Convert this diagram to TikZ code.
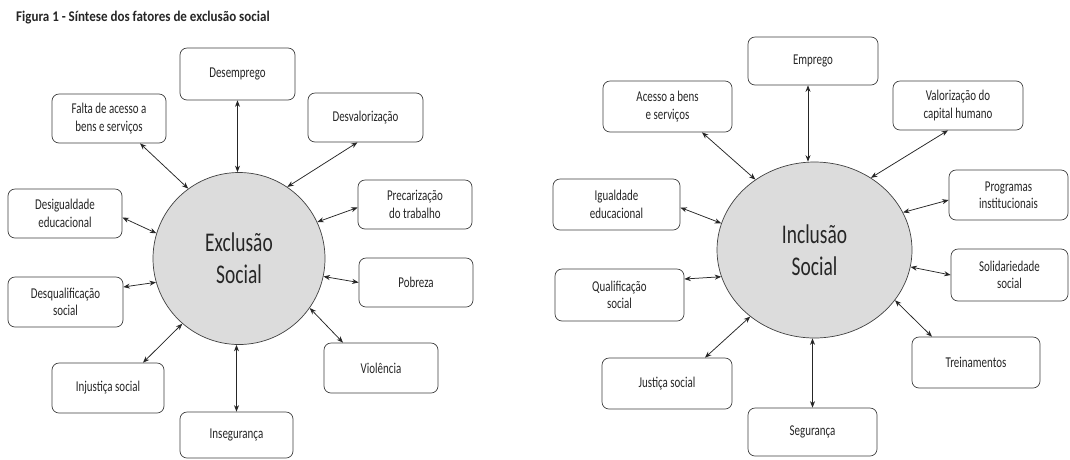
\documentclass[tikz,border=0pt]{standalone}
\usepackage{fontspec}
\usetikzlibrary{arrows.meta,shapes.geometric}
\newfontfamily\boxfont[FakeStretch=0.73]{Carlito}
\newfontfamily\circfont[FakeStretch=0.72]{Carlito}
\newfontfamily\titlefont[FakeStretch=0.88]{Carlito}
\definecolor{txt}{HTML}{262626}
\definecolor{circfill}{HTML}{DCDCDC}
\definecolor{edge}{HTML}{404040}
\tikzset{
  fbox/.style={draw=edge, line width=0.7pt, rounded corners=7pt, inner sep=0pt,
    align=center, text=txt, font=\boxfont\fontsize{15}{17.5}\selectfont},
  bigcirc/.style={draw=edge, line width=0.7pt, fill=circfill, inner sep=0pt,
    align=center, text=txt, font=\circfont\fontsize{27}{32}\selectfont},
  arr/.style={{Stealth[length=6.5pt,width=5pt]}-{Stealth[length=6.5pt,width=5pt]}, line width=0.75pt, draw=black!85}
}
\begin{document}
\begin{tikzpicture}[x=1pt,y=-1pt]
\useasboundingbox (0,0) rectangle (1070,459);
\fill[white] (0,0) rectangle (1070,459);

% title
\node[anchor=west, inner sep=0pt, text=black!85, font=\titlefont\bfseries\fontsize{14.8}{17}\selectfont] (title) at (16,18) {Figura 1 - Síntese dos fatores de exclusão social};

% ---------- left diagram ----------
\node[bigcirc, circle, minimum size=172pt] (exc) at (239,258.5) {Exclusão\\Social};

\node[fbox, minimum width=115pt, minimum height=52pt] (desemp) at (237.5,74) {Desemprego};
\node[fbox, minimum width=114pt, minimum height=49pt] (falta) at (109,118.5) {Falta de acesso a\\bens e serviços};
\node[fbox, minimum width=115pt, minimum height=49pt] (desval) at (365.5,117.5) {Desvalorização};
\node[fbox, minimum width=114pt, minimum height=49pt] (precar) at (415,204.5) {Precarização\\do trabalho};
\node[fbox, minimum width=114pt, minimum height=49pt] (desig) at (65,213.5) {Desigualdade\\educacional};
\node[fbox, minimum width=115pt, minimum height=50pt] (desqual) at (65.5,302) {Desqualificação\\social};
\node[fbox, minimum width=112pt, minimum height=50pt] (injust) at (108,388) {Injustiça social};
\node[fbox, minimum width=113pt, minimum height=46pt] (inseg) at (236.5,435) {Insegurança};
\node[fbox, minimum width=114pt, minimum height=49pt] (pobreza) at (416,282.5) {Pobreza};
\node[fbox, minimum width=114pt, minimum height=50pt] (viol) at (381,368) {Violência};

\draw[arr] (desemp.south) -- (desemp.south |- exc.north);
\draw[arr] ([xshift=31pt]falta.south) -- (exc.126);
\draw[arr] ([xshift=-8pt]desval.south) -- (exc.56);
\draw[arr] ([yshift=-3pt]precar.west) -- (exc.25);
\draw[arr] ([yshift=-4pt]desig.east) -- (exc.163);
\draw[arr] ([yshift=15pt]desqual.east) -- (exc.196);
\draw[arr] ([xshift=35pt]injust.north) -- (exc.229);
\draw[arr] (inseg.north) -- (inseg.north |- exc.south);
\draw[arr] (exc.-12) -- (pobreza.west);
\draw[arr] (exc.-35) -- ([xshift=-38pt]viol.north);

% ---------- right diagram ----------
\node[bigcirc, ellipse, minimum width=195pt, minimum height=176pt] (inc) at (814.5,250) {Inclusão\\Social};

\node[fbox, minimum width=130pt, minimum height=48pt] (empr) at (813,61) {Emprego};
\node[fbox, minimum width=129pt, minimum height=51pt] (acesso) at (667.5,106.5) {Acesso a bens\\e serviços};
\node[fbox, minimum width=130pt, minimum height=49pt] (valor) at (958,105.5) {Valorização do\\capital humano};
\node[fbox, minimum width=119pt, minimum height=50pt] (prog) at (1008.5,195) {Programas\\institucionais};
\node[fbox, minimum width=127pt, minimum height=51pt] (igual) at (616.5,204.5) {Igualdade\\educacional};
\node[fbox, minimum width=129pt, minimum height=52pt] (qualif) at (619.5,295) {Qualificação\\social};
\node[fbox, minimum width=130pt, minimum height=51pt] (justica) at (667,383.5) {Justiça social};
\node[fbox, minimum width=129pt, minimum height=48pt] (seg) at (812.5,432) {Segurança};
\node[fbox, minimum width=117pt, minimum height=52pt] (solid) at (1009.5,275) {Solidariedade\\social};
\node[fbox, minimum width=128pt, minimum height=51pt] (trein) at (976,362.5) {Treinamentos};

\draw[arr] ([xshift=-5pt]empr.south) -- ([xshift=-5pt]empr.south |- inc.north);
\draw[arr] ([xshift=34.5pt]acesso.south) -- (inc.130);
\draw[arr] ([xshift=-10pt]valor.south) -- (inc.52);
\draw[arr] ([yshift=-5pt]prog.west) -- (inc.23);
\draw[arr] ([yshift=-3pt]igual.east) -- (inc.164);
\draw[arr] ([yshift=16pt]qualif.east) -- (inc.196);
\draw[arr] ([xshift=38pt]justica.north) -- (inc.226);
\draw[arr] (seg.north) -- (seg.north |- inc.south);
\draw[arr] (inc.-10) -- (solid.west);
\draw[arr] (inc.-32) -- ([xshift=-44pt]trein.north);
\end{tikzpicture}
\end{document}
